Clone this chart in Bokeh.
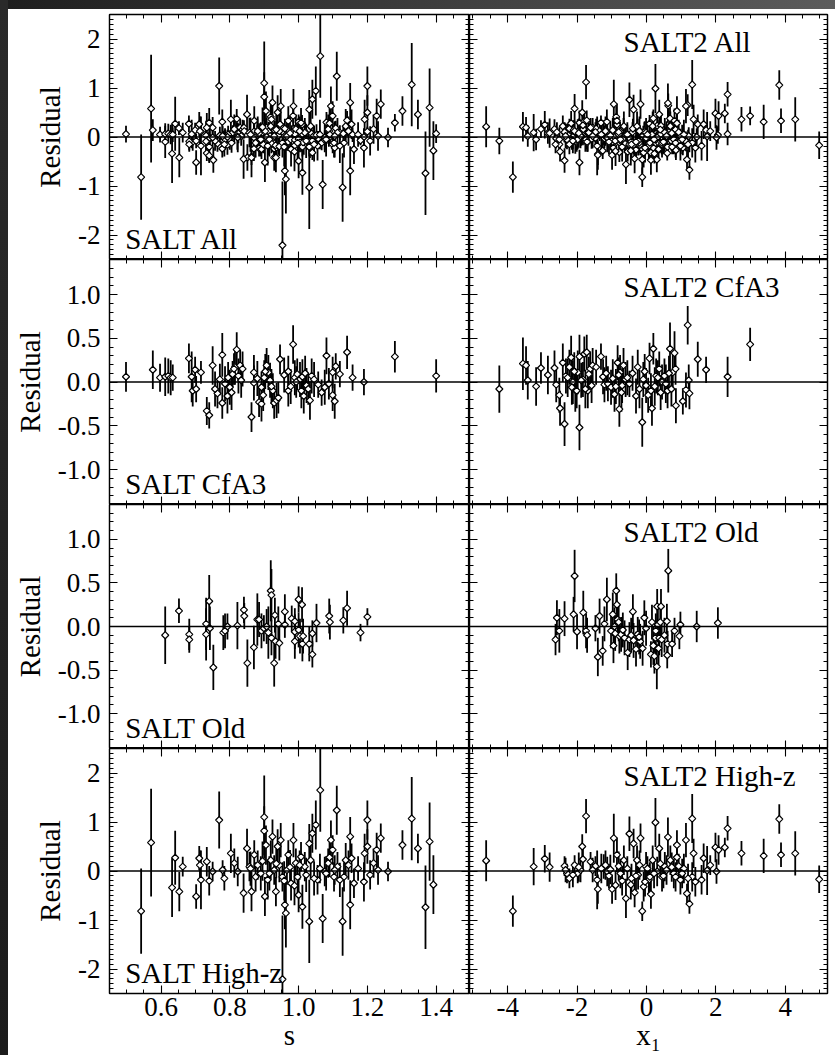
import numpy as np
from bokeh.plotting import figure
from bokeh.layouts import gridplot, row, column
from bokeh.models import (ColumnDataSource, LinearAxis, SingleIntervalTicker,
                          PrintfTickFormatter, Span, Label, Range1d, Spacer)
from bokeh.embed import file_html
from bokeh.resources import INLINE

# ---------------- data ----------------
# SALT, CfA3 sample: stretch s, residual, error
salt_cfa3_s = [
    0.498, 0.576, 0.597, 0.612, 0.621, 0.628, 0.634, 0.681, 0.689, 0.692,
    0.699, 0.702, 0.716, 0.733, 0.740, 0.750, 0.764, 0.771, 0.778, 0.778,
    0.786, 0.793, 0.800, 0.808, 0.815, 0.820, 0.825, 0.830, 0.837, 0.863,
    0.870, 0.870, 0.885, 0.892, 0.892, 0.900, 0.907, 0.912, 0.917, 0.925,
    0.929, 0.936, 0.946, 0.970, 0.970, 0.984, 0.989, 0.996, 1.004, 1.011,
    1.015, 1.023, 1.033, 1.038, 1.057, 1.067, 1.076, 1.081, 1.099, 1.099,
    1.105, 1.108, 1.120, 1.141, 1.157, 1.190, 1.280, 1.400,
    0.757, 0.795, 0.805, 0.812, 0.833, 0.880, 0.897, 0.903, 0.921, 0.941,
    0.958, 0.977, 0.993, 1.008, 1.019, 1.028, 1.045, 1.088]
salt_cfa3_res = [
    0.06, 0.14, 0.05, 0.06, 0.07, 0.05, 0.05, 0.27, 0.06, -0.10,
    0.14, -0.08, 0.11, -0.33, -0.38, 0.19, -0.13, 0.03, 0.31, -0.24,
    -0.02, -0.16, -0.06, 0.09, 0.17, 0.37, 0.07, 0.19, 0.15, -0.40,
    0.11, -0.01, -0.23, -0.25, -0.06, 0.05, 0.19, 0.11, 0.02, -0.10,
    -0.24, -0.21, 0.26, 0.12, -0.10, 0.43, 0.05, 0.09, 0.03, 0.06,
    -0.16, -0.04, -0.21, 0.07, -0.03, -0.12, -0.06, 0.30, -0.15, 0.11,
    -0.22, 0.18, 0.09, 0.34, 0.05, 0.00, 0.29, 0.07,
    -0.08, 0.05, -0.12, 0.15, 0.02, 0.04, -0.15, 0.12, -0.05, -0.18,
    0.08, -0.05, 0.00, -0.10, 0.10, -0.08, 0.03, -0.02]
salt_cfa3_err = [
    0.17, 0.22, 0.16, 0.22, 0.20, 0.20, 0.15, 0.17, 0.29, 0.18,
    0.15, 0.15, 0.13, 0.16, 0.15, 0.22, 0.17, 0.18, 0.25, 0.18,
    0.20, 0.20, 0.20, 0.15, 0.20, 0.20, 0.20, 0.18, 0.20, 0.17,
    0.20, 0.20, 0.17, 0.20, 0.18, 0.20, 0.20, 0.20, 0.20, 0.20,
    0.18, 0.20, 0.17, 0.18, 0.18, 0.22, 0.20, 0.18, 0.20, 0.20,
    0.20, 0.20, 0.22, 0.20, 0.15, 0.15, 0.20, 0.21, 0.18, 0.18,
    0.20, 0.15, 0.15, 0.19, 0.15, 0.15, 0.18, 0.19,
    0.20, 0.18, 0.20, 0.18, 0.20, 0.20, 0.18, 0.20, 0.20, 0.18,
    0.20, 0.20, 0.18, 0.20, 0.20, 0.18, 0.20, 0.18]

# SALT2, CfA3 sample: x1, residual, error
salt2_cfa3_x1 = [
    -4.24, -3.56, -3.47, -3.42, -3.18, -3.04, -2.84, -2.65, -2.60, -2.51,
    -2.49, -2.41, -2.36, -2.32, -2.22, -2.17, -2.12, -2.05, -1.98, -1.93,
    -1.93, -1.83, -1.79, -1.72, -1.69, -1.62, -1.55, -1.45, -1.31, -1.21,
    -1.11, -1.02, -0.92, -0.83, -0.78, -0.76, -0.70, -0.66, -0.60, -0.49,
    -0.30, -0.25, -0.12, -0.09, -0.01, 0.09, 0.13, 0.16, 0.20, 0.28,
    0.37, 0.45, 0.52, 0.61, 0.68, 0.76, 0.81, 0.84, 0.85, 1.05,
    1.14, 1.19, 1.22, 1.24, 1.48, 1.72, 2.34, 2.99,
    -2.27, -2.15, -2.08, -2.01, -1.88, -1.76, -1.66, -1.58, -1.25, -1.16,
    -0.97, -0.88, -0.80, -0.72, -0.55, -0.40, -0.20, -0.05, 0.05, 0.24,
    0.33, 0.41, 0.56, 0.65, 0.72]
salt2_cfa3_res = [
    -0.08, 0.21, 0.19, 0.02, -0.05, 0.16, 0.08, 0.16, -0.03, -0.15,
    -0.30, 0.22, -0.48, 0.07, 0.17, 0.28, 0.00, -0.09, 0.11, -0.52,
    0.29, 0.03, 0.32, 0.34, -0.10, 0.15, 0.19, 0.17, 0.29, -0.03,
    -0.02, -0.06, -0.14, 0.22, -0.31, 0.11, -0.04, 0.19, 0.03, -0.02,
    -0.16, 0.17, -0.46, 0.03, -0.04, 0.27, -0.10, -0.30, 0.38, 0.07,
    0.15, 0.00, 0.07, -0.10, 0.38, 0.11, 0.33, 0.15, -0.27, -0.22,
    -0.09, 0.65, 0.02, -0.13, 0.26, 0.14, 0.06, 0.43,
    0.05, -0.06, 0.12, -0.10, 0.02, -0.08, 0.09, -0.04, 0.06, 0.10,
    0.04, -0.05, 0.08, -0.12, 0.05, 0.10, -0.08, 0.12, -0.15, -0.05,
    0.05, -0.12, -0.02, 0.10, -0.08]
salt2_cfa3_err = [
    0.27, 0.30, 0.22, 0.22, 0.22, 0.18, 0.22, 0.20, 0.20, 0.20,
    0.20, 0.22, 0.25, 0.20, 0.20, 0.25, 0.25, 0.25, 0.25, 0.26,
    0.25, 0.20, 0.20, 0.20, 0.20, 0.20, 0.20, 0.20, 0.15, 0.20,
    0.20, 0.20, 0.20, 0.20, 0.20, 0.20, 0.20, 0.20, 0.20, 0.15,
    0.20, 0.20, 0.28, 0.20, 0.20, 0.18, 0.20, 0.20, 0.18, 0.20,
    0.20, 0.20, 0.20, 0.20, 0.30, 0.20, 0.25, 0.18, 0.20, 0.15,
    0.20, 0.22, 0.18, 0.18, 0.20, 0.15, 0.23, 0.19,
    0.22, 0.20, 0.22, 0.20, 0.20, 0.22, 0.20, 0.20, 0.20, 0.20,
    0.22, 0.20, 0.20, 0.22, 0.20, 0.20, 0.22, 0.20, 0.20, 0.22,
    0.20, 0.20, 0.22, 0.20, 0.20]

# SALT, Old sample
salt_old_s = [
    0.612, 0.652, 0.682, 0.682, 0.731, 0.731, 0.740, 0.742, 0.752, 0.781,
    0.786, 0.793, 0.822, 0.841, 0.842, 0.851, 0.870, 0.880, 0.885, 0.892,
    0.899, 0.907, 0.912, 0.919, 0.921, 0.921, 0.929, 0.931, 0.933, 0.941,
    0.944, 0.960, 0.960, 0.980, 0.989, 0.989, 0.989, 1.000, 1.000, 1.004,
    1.010, 1.011, 1.013, 1.031, 1.040, 1.040, 1.052, 1.089, 1.091, 1.130,
    1.141, 1.180, 1.200]
salt_old_res = [
    -0.10, 0.18, -0.09, -0.15, 0.03, -0.09, 0.29, -0.02, -0.47, -0.07,
    -0.05, 0.00, 0.01, 0.19, 0.12, -0.42, -0.24, 0.08, 0.08, -0.05,
    -0.02, 0.00, -0.07, 0.41, 0.36, -0.13, -0.42, 0.13, -0.17, 0.03,
    -0.19, 0.17, 0.02, 0.09, 0.06, -0.06, -0.17, 0.31, -0.04, -0.11,
    0.25, -0.20, -0.11, -0.20, -0.08, -0.32, 0.04, 0.12, 0.05, 0.07,
    0.21, -0.07, 0.11]
salt_old_err = [
    0.33, 0.14, 0.18, 0.15, 0.30, 0.30, 0.30, 0.25, 0.26, 0.20,
    0.20, 0.15, 0.27, 0.15, 0.15, 0.27, 0.25, 0.30, 0.20, 0.20,
    0.15, 0.20, 0.30, 0.35, 0.30, 0.20, 0.27, 0.20, 0.20, 0.20,
    0.20, 0.20, 0.15, 0.15, 0.15, 0.20, 0.20, 0.15, 0.20, 0.20,
    0.20, 0.20, 0.20, 0.20, 0.15, 0.15, 0.22, 0.20, 0.20, 0.15,
    0.20, 0.10, 0.10]

# SALT2, Old sample
salt2_old_x1 = [
    -2.62, -2.58, -2.51, -2.36, -2.07, -2.10, -2.00, -1.82, -1.74, -1.71,
    -1.47, -1.40, -1.35, -1.26, -1.21, -1.14, -1.02, -0.97, -0.95, -0.87,
    -0.85, -0.83, -0.78, -0.73, -0.63, -0.54, -0.49, -0.39, -0.37, -0.30,
    -0.25, -0.18, -0.11, -0.06, -0.01, 0.13, 0.16, 0.23, 0.26, 0.30,
    0.31, 0.33, 0.37, 0.42, 0.59, 0.60, 0.61, 0.63, 0.74, 0.81,
    0.95, 0.98, 1.45, 2.06,
    -0.92, -0.90, -0.80, -0.68, -0.44, -0.21, 0.20, 0.27, 0.35, 0.40,
    0.44, 0.52]
salt2_old_res = [
    -0.15, 0.10, -0.05, 0.09, 0.58, 0.14, -0.06, 0.16, -0.05, -0.10,
    -0.02, -0.35, 0.12, -0.28, 0.03, 0.31, -0.05, 0.14, -0.22, 0.41,
    0.25, 0.08, -0.11, -0.09, -0.13, -0.30, -0.15, 0.17, -0.16, -0.26,
    -0.09, -0.17, -0.25, 0.10, -0.02, -0.32, 0.05, -0.34, -0.13, -0.46,
    0.23, 0.02, -0.13, 0.23, 0.06, -0.33, -0.20, 0.64, -0.20, -0.05,
    -0.11, 0.02, 0.00, 0.04,
    0.00, -0.08, 0.05, -0.04, -0.10, -0.12, -0.22, -0.05, -0.25, 0.05,
    -0.15, -0.10]
salt2_old_err = [
    0.18, 0.20, 0.25, 0.20, 0.30, 0.20, 0.20, 0.25, 0.20, 0.20,
    0.15, 0.22, 0.20, 0.17, 0.20, 0.25, 0.20, 0.25, 0.20, 0.20,
    0.20, 0.20, 0.20, 0.20, 0.20, 0.20, 0.20, 0.20, 0.20, 0.20,
    0.20, 0.20, 0.20, 0.20, 0.20, 0.15, 0.20, 0.20, 0.20, 0.26,
    0.20, 0.20, 0.20, 0.20, 0.20, 0.15, 0.15, 0.25, 0.15, 0.15,
    0.15, 0.15, 0.18, 0.18,
    0.22, 0.20, 0.22, 0.20, 0.20, 0.20, 0.22, 0.20, 0.22, 0.20,
    0.20, 0.20]

# SALT, High-z sample
salt_hz_s = [
    0.542, 0.571, 0.632, 0.641, 0.653, 0.663, 0.702, 0.711, 0.713, 0.716,
    0.733, 0.740, 0.750, 0.769, 0.779, 0.784, 0.803, 0.813, 0.823, 0.840,
    0.850, 0.857, 0.863, 0.871, 0.881, 0.890, 0.900, 0.900, 0.902, 0.905,
    0.910, 0.919, 0.924, 0.929, 0.934, 0.939, 0.944, 0.948, 0.953, 0.953,
    0.960, 0.963, 0.966, 0.970, 0.978, 0.985, 0.992, 0.997, 1.000, 1.007,
    1.011, 1.018, 1.031, 1.031, 1.040, 1.050, 1.055, 1.063, 1.070, 1.076,
    1.086, 1.094, 1.099, 1.103, 1.111, 1.113, 1.128, 1.132, 1.137, 1.150,
    1.150, 1.154, 1.161, 1.173, 1.190, 1.192, 1.200, 1.200, 1.208, 1.218,
    1.227, 1.231, 1.239, 1.260, 1.302, 1.329, 1.347, 1.369, 1.381, 1.392,
    0.860, 0.875, 0.895, 0.915, 0.935, 0.958, 0.975, 0.988, 1.003, 1.022,
    1.035, 1.045, 1.062, 1.080, 1.090, 1.105, 1.120, 1.145]
salt_hz_res = [
    -0.82, 0.58, -0.34, 0.27, -0.42, 0.09, -0.52, 0.26, 0.12, -0.18,
    0.19, -0.20, -0.01, 1.04, 0.02, -0.15, 0.36, 0.16, -0.01, -0.45,
    0.46, 0.09, -0.42, 0.33, 0.12, -0.05, 1.10, 0.82, -0.52, 0.53,
    -0.18, 0.22, 0.70, 0.02, -0.42, 0.50, 0.12, 0.63, -0.12, -2.21,
    -0.69, -0.86, 0.02, 0.33, -0.25, 0.63, 0.16, -0.12, -0.49, 0.29,
    -0.73, 0.09, -1.03, 0.56, 0.77, 0.94, -0.18, 1.65, -0.97, -0.01,
    0.16, 0.63, 0.43, -0.12, 1.24, 0.09, -1.03, -0.12, 0.22, 0.70,
    -0.69, 0.26, -0.25, 0.05, -0.22, 0.36, 1.04, 0.50, -0.08, 0.16,
    0.43, 0.02, 0.67, -0.01, 0.53, 1.07, 0.46, -0.74, 0.60, -0.28,
    0.05, -0.12, 0.20, -0.05, 0.15, -0.20, 0.08, -0.30, 0.12, -0.08,
    0.22, -0.15, 0.05, -0.05, 0.28, 0.02, -0.18, 0.12]
salt_hz_err = [
    0.87, 1.10, 0.60, 0.55, 0.40, 0.20, 0.25, 0.25, 0.30, 0.60,
    0.30, 0.30, 0.20, 0.58, 0.20, 0.25, 0.40, 0.30, 0.30, 0.40,
    0.40, 0.30, 0.40, 0.30, 0.30, 0.35, 0.85, 0.50, 0.40, 0.40,
    0.40, 0.40, 0.35, 0.30, 0.30, 0.35, 0.35, 0.35, 0.30, 1.30,
    0.50, 0.70, 0.30, 0.30, 0.35, 0.35, 0.30, 0.35, 0.35, 0.30,
    0.45, 0.30, 0.85, 0.40, 0.40, 0.50, 0.30, 0.85, 0.50, 0.30,
    0.30, 0.40, 0.30, 0.30, 0.50, 0.30, 0.70, 0.30, 0.35, 0.40,
    0.50, 0.30, 0.30, 0.25, 0.40, 0.40, 0.40, 0.35, 0.30, 0.30,
    0.35, 0.30, 0.30, 0.20, 0.30, 0.85, 0.30, 0.85, 0.80, 0.60,
    0.35, 0.30, 0.40, 0.35, 0.30, 0.40, 0.35, 0.40, 0.30, 0.35,
    0.40, 0.35, 0.30, 0.35, 0.40, 0.30, 0.35, 0.30]

# SALT2, High-z sample
salt2_hz_x1 = [
    -4.62, -3.85, -3.25, -2.93, -2.79, -2.36, -2.29, -2.22, -2.07, -1.98,
    -1.90, -1.85, -1.83, -1.74, -1.61, -1.47, -1.42, -1.40, -1.23, -1.13,
    -1.04, -0.99, -0.94, -0.85, -0.89, -0.75, -0.65, -0.59, -0.49, -0.43,
    -0.37, -0.34, -0.27, -0.24, -0.17, -0.12, -0.08, -0.01, 0.07, 0.13,
    0.18, 0.26, 0.31, 0.37, 0.45, 0.53, 0.62, 0.69, 0.79, 0.88,
    0.88, 0.98, 1.08, 1.14, 1.17, 1.24, 1.32, 1.32, 1.36, 1.41,
    1.59, 1.65, 1.75, 1.84, 1.99, 2.02, 2.08, 2.26, 2.34, 2.74,
    3.38, 3.83, 3.88, 4.29, 4.98,
    -2.33, -2.12, -1.95, -1.55, -1.30, -1.18, -1.08, -0.80, -0.70, -0.55,
    -0.45, -0.30, -0.20, -0.04, 0.03, 0.10, 0.22, 0.40, 0.49, 0.58,
    0.73, 0.84, 0.93, 1.03, 1.20]
salt2_hz_res = [
    0.21, -0.82, 0.09, 0.25, 0.08, 0.10, -0.05, -0.15, 0.12, -0.05,
    0.02, 0.50, 0.24, 1.12, 0.19, 0.10, -0.18, -0.37, 0.09, -0.01,
    0.03, -0.37, 0.67, 0.33, -0.29, -0.05, 0.22, -0.56, 0.76, -0.15,
    0.56, -0.44, 0.22, -0.08, 0.67, -0.82, -0.32, 0.09, -0.18, -0.47,
    0.22, 0.99, -0.01, 0.46, -0.12, 0.09, 0.69, 0.22, -0.05, 0.53,
    0.28, -0.18, 0.05, 0.63, -0.46, -0.67, 1.07, -0.12, 0.36, -0.22,
    -0.18, 0.26, 0.01, 0.12, 0.48, -0.01, 0.43, 0.48, 0.87, 0.36,
    0.31, 1.06, 0.33, 0.36, -0.17,
    0.02, -0.08, 0.08, 0.02, 0.05, 0.12, -0.10, 0.10, -0.20, 0.05,
    -0.28, -0.10, 0.12, -0.22, 0.05, -0.12, -0.05, 0.15, -0.10, 0.02,
    0.08, -0.12, 0.10, -0.05, -0.15]
salt2_hz_err = [
    0.42, 0.32, 0.38, 0.28, 0.30, 0.20, 0.20, 0.20, 0.20, 0.20,
    0.25, 0.25, 0.25, 0.35, 0.20, 0.20, 0.60, 0.30, 0.25, 0.30,
    0.30, 0.30, 0.50, 0.35, 0.30, 0.30, 0.30, 0.40, 0.35, 0.30,
    0.30, 0.30, 0.30, 0.30, 0.30, 0.20, 0.30, 0.30, 0.30, 0.30,
    0.30, 0.50, 0.30, 0.30, 0.30, 0.30, 0.40, 0.30, 0.30, 0.30,
    0.30, 0.30, 0.30, 0.35, 0.20, 0.20, 0.50, 0.30, 0.30, 0.30,
    0.30, 0.30, 0.50, 0.20, 0.30, 0.25, 0.30, 0.20, 0.25, 0.25,
    0.35, 0.30, 0.25, 0.45, 0.28,
    0.25, 0.25, 0.30, 0.25, 0.30, 0.30, 0.25, 0.30, 0.30, 0.25,
    0.30, 0.30, 0.30, 0.30, 0.25, 0.30, 0.30, 0.30, 0.25, 0.30,
    0.30, 0.30, 0.25, 0.30, 0.30]

panel_titles_left = ["SALT All", "SALT CfA3", "SALT Old", "SALT High-z"]
panel_titles_right = ["SALT2 All", "SALT2 CfA3", "SALT2 Old", "SALT2 High-z"]
y_axis_title = "Residual"
x_titles = ["s", "x\u2081"]

# ---------------- styling / layout ----------------
FONT = "Liberation Serif"
FS_TICK = "27px"
FS_TEXT = "29px"
FRAME_W = [360, 358]
FRAME_H = [245, 245, 244, 245]
X_RANGES = [(0.45, 1.497), (-5.1, 5.22)]
Y_RANGES = [(-2.5, 2.5), (-1.4, 1.4), (-1.4, 1.4), (-2.5, 2.5)]

x_tickers = [SingleIntervalTicker(interval=0.2, num_minor_ticks=4),
             SingleIntervalTicker(interval=2, num_minor_ticks=4)]
x_formats = ["%.1f", "%d"]
y_tickers = [SingleIntervalTicker(interval=1, num_minor_ticks=10),
             SingleIntervalTicker(interval=0.5, num_minor_ticks=5),
             SingleIntervalTicker(interval=0.5, num_minor_ticks=5),
             SingleIntervalTicker(interval=1, num_minor_ticks=10)]
y_formats = ["%d", "%.1f", "%.1f", "%d"]


def style_axis(ax, show, fmt, standoff):
    ax.axis_line_color = "black"
    ax.axis_line_width = 1.3
    ax.major_tick_in = 8
    ax.major_tick_out = 0
    ax.minor_tick_in = 4
    ax.minor_tick_out = 0
    ax.major_tick_line_color = "black"
    ax.minor_tick_line_color = "black"
    ax.major_tick_line_width = 1.1
    ax.minor_tick_line_width = 1.0
    ax.formatter = PrintfTickFormatter(format=fmt)
    if show:
        ax.major_label_text_font = FONT
        ax.major_label_text_font_size = FS_TICK
        ax.major_label_text_color = "black"
        ax.major_label_standoff = standoff
    else:
        ax.major_label_text_font_size = "0px"
        ax.major_label_text_alpha = 0
        ax.major_label_text_color = None
        ax.major_label_standoff = 0


def make_panel(ri, ci, xs, ys, es, title):
    x = np.asarray(xs, dtype=float)
    y = np.asarray(ys, dtype=float)
    e = np.asarray(es, dtype=float)
    src = ColumnDataSource(dict(x=x, y=y, lo=y - e, hi=y + e))
    left = ci == 0
    p = figure(x_range=Range1d(*X_RANGES[ci]), y_range=Range1d(*Y_RANGES[ri]),
               frame_width=FRAME_W[ci], frame_height=FRAME_H[ri],
               min_border_left=101 if left else 0,
               min_border_right=0 if left else 8,
               min_border_top=5 if ri == 0 else 0,
               min_border_bottom=62 if ri == 3 else 0,
               output_backend="svg", toolbar_location=None,
               background_fill_color="white", border_fill_color="white",
               outline_line_color="black", outline_line_width=1.2)
    p.grid.visible = False

    xb = p.xaxis[0]
    yl = p.yaxis[0]
    xb.ticker = x_tickers[ci]
    yl.ticker = y_tickers[ri]
    style_axis(xb, ri == 3, x_formats[ci], 4)
    style_axis(yl, left, y_formats[ri], 9)
    xa = LinearAxis(ticker=x_tickers[ci])
    yr = LinearAxis(ticker=y_tickers[ri])
    style_axis(xa, False, x_formats[ci], 0)
    style_axis(yr, False, y_formats[ri], 0)
    p.add_layout(xa, "above")
    p.add_layout(yr, "right")

    if left:
        yl.axis_label = y_axis_title
        yl.axis_label_text_font = FONT
        yl.axis_label_text_font_size = FS_TEXT
        yl.axis_label_text_font_style = "normal"
        yl.axis_label_text_color = "black"
        yl.axis_label_standoff = 9
    if ri == 3:
        xb.axis_label = x_titles[ci]
        xb.axis_label_text_font = FONT
        xb.axis_label_text_font_size = FS_TEXT
        xb.axis_label_text_font_style = "normal"
        xb.axis_label_text_color = "black"
        xb.axis_label_standoff = 0

    p.add_layout(Span(location=0, dimension="width", line_color="black", line_width=1.3))
    p.segment(x0="x", y0="lo", x1="x", y1="hi", source=src,
              line_color="black", line_width=1.8)
    p.scatter("x", "y", source=src, marker="square", angle=np.pi / 4, size=5,
              fill_color="white", line_color="black", line_width=1.2)

    ylo, yhi = Y_RANGES[ri]
    ph = FRAME_H[ri] / (yhi - ylo)  # px per unit
    if left:
        lab = Label(x=0.4955, y=ylo + 21 / ph, text=title, text_font=FONT,
                    text_font_size=FS_TEXT, text_color="black",
                    text_baseline="alphabetic", text_align="left")
    else:
        lab = Label(x=-0.66, y=yhi - 27 / ph, text=title, text_font=FONT,
                    text_font_size=FS_TEXT, text_color="black",
                    text_baseline="alphabetic", text_align="left")
    p.add_layout(lab)
    return p


left_sets = [
    (salt_cfa3_s + salt_old_s + salt_hz_s,
     salt_cfa3_res + salt_old_res + salt_hz_res,
     salt_cfa3_err + salt_old_err + salt_hz_err),
    (salt_cfa3_s, salt_cfa3_res, salt_cfa3_err),
    (salt_old_s, salt_old_res, salt_old_err),
    (salt_hz_s, salt_hz_res, salt_hz_err),
]
right_sets = [
    (salt2_cfa3_x1 + salt2_old_x1 + salt2_hz_x1,
     salt2_cfa3_res + salt2_old_res + salt2_hz_res,
     salt2_cfa3_err + salt2_old_err + salt2_hz_err),
    (salt2_cfa3_x1, salt2_cfa3_res, salt2_cfa3_err),
    (salt2_old_x1, salt2_old_res, salt2_old_err),
    (salt2_hz_x1, salt2_hz_res, salt2_hz_err),
]

rows = []
for ri in range(4):
    pl = make_panel(ri, 0, *left_sets[ri], panel_titles_left[ri])
    pr = make_panel(ri, 1, *right_sets[ri], panel_titles_right[ri])
    rows.append([pl, pr])

grid = gridplot(rows, toolbar_location=None)

left_strip = Spacer(width=8, height=1055,
                    styles={"background": "linear-gradient(to bottom, #2a2a2a, #1c1c1c)"})
top_strip = Spacer(width=827, height=9,
                   styles={"background": "linear-gradient(to right, #1e1e1e, #5c5c5c)"})
layout = row(left_strip, column(top_strip, grid))

open("out.html", "w").write(file_html(layout, INLINE))
